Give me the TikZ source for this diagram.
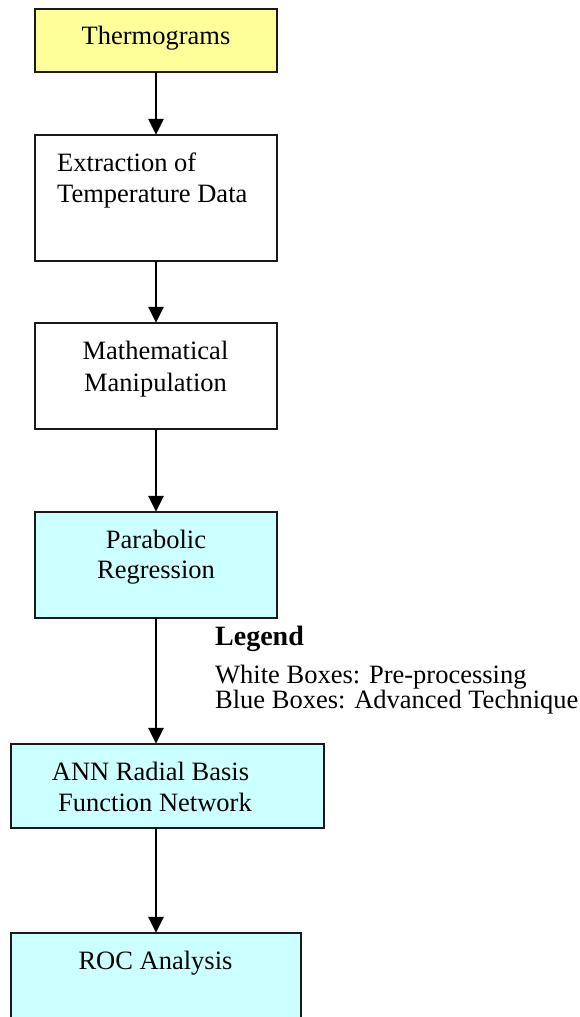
\documentclass[tikz,border=0pt]{standalone}
\usepackage{fontspec}
\setmainfont{Liberation Serif}
\usetikzlibrary{arrows.meta}
\definecolor{edge}{HTML}{1A1A1A}
\definecolor{inputfill}{HTML}{FFFF99}
\definecolor{techfill}{HTML}{CCFFFF}
\tikzset{
  box/.style={draw=edge, line width=2.2pt},
  whitebox/.style={box, fill=white},
  yellowbox/.style={box, fill=inputfill},
  bluebox/.style={box, fill=techfill},
  frame/.style={inner sep=0pt},
  boxtext/.style={inner sep=0pt, anchor=base,
    font=\fontsize{26.5}{31}\selectfont},
  flow/.style={draw=black, line width=2.6pt, -{Triangle[width=15pt,length=16pt]}},
  legendhead/.style={inner sep=0pt, anchor=base west, font=\fontsize{28}{31}\selectfont\bfseries},
  legendline/.style={inner sep=0pt, anchor=base west,
    font=\fontsize{26.5}{25}\selectfont},
}
\begin{document}
\begin{tikzpicture}[x=1pt, y=-1pt]
\useasboundingbox (0,0) rectangle (580,1017);
\clip (0,0) rectangle (580,1017);

% process boxes
\path[yellowbox] (35,9) rectangle (277,72);
\node[frame, minimum width=242pt, minimum height=63pt] (thermo) at (156,40.5) {};
\path[whitebox] (35,135) rectangle (277,261);
\node[frame, minimum width=242pt, minimum height=126pt] (extract) at (156,198) {};
\path[whitebox] (35,323) rectangle (277,429);
\node[frame, minimum width=242pt, minimum height=106pt] (manip) at (156,376) {};
\path[bluebox] (35,512) rectangle (277,618);
\node[frame, minimum width=242pt, minimum height=106pt] (parab) at (156,565) {};
\path[bluebox] (11,744) rectangle (324,828);
\node[frame, minimum width=313pt, minimum height=84pt] (rbf) at (167.5,786) {};
\path[bluebox] (11,933) rectangle (301,1040);
\node[frame, minimum width=290pt, minimum height=107pt] (roc) at (156,986.5) {};

% box labels, one node per printed line
\node[boxtext] (thermoT) at (156,44) {Thermograms};
\node[boxtext, anchor=base west] (extractT1) at (57,171) {Extraction of};
\node[boxtext, anchor=base west] (extractT2) at (57,202) {Temperature Data};
\node[boxtext] (manipT1) at (155.5,359) {Mathematical};
\node[boxtext] (manipT2) at (155.5,391) {Manipulation};
\node[boxtext] (parabT1) at (156,548) {Parabolic};
\node[boxtext] (parabT2) at (156,578) {Regression};
\node[boxtext] (rbfT1) at (150.5,780) {ANN Radial Basis};
\node[boxtext] (rbfT2) at (155,811) {Function Network};
\node[boxtext] (rocT) at (155.5,969) {ROC Analysis};

% flow arrows
\draw[flow] (thermo.south) -- (extract.north);
\draw[flow] (extract.south) -- (manip.north);
\draw[flow] (manip.south) -- (parab.north);
\draw[flow] (parab.south) -- (parab.south |- rbf.north);
\draw[flow] (roc.north |- rbf.south) -- (roc.north);

% legend
\node[legendhead] (legend) at (215,645) {Legend};
\node[legendline] (legendW) at (215,683) {White Boxes: Pre-processing};
\node[legendline] (legendB) at (215,708) {Blue Boxes: Advanced Technique};
\end{tikzpicture}
\end{document}
